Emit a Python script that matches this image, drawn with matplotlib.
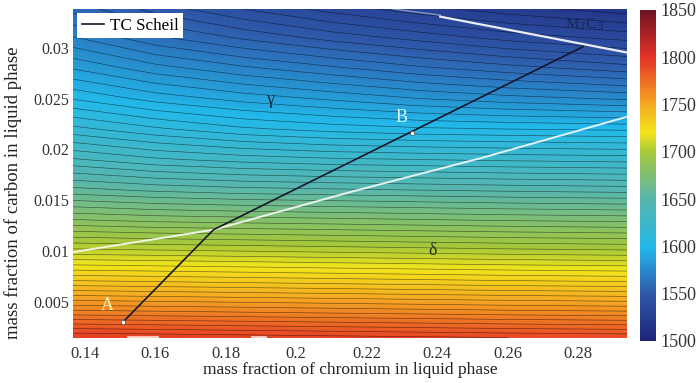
import numpy as np
import matplotlib.pyplot as plt
from matplotlib.colors import LinearSegmentedColormap

plt.rcParams['font.family'] = ['Liberation Serif', 'DejaVu Serif']

# Datos
cromo = [0.135, 0.16, 0.185, 0.21, 0.235, 0.26, 0.295]
carbono = [0.0015, 0.004, 0.007, 0.010, 0.013, 0.016, 0.019, 0.022, 0.025, 0.028, 0.031, 0.034]
temperatura = [
    [1795, 1794, 1793, 1792, 1791, 1790, 1789],
    [1767, 1766, 1765, 1764, 1763, 1762, 1761],
    [1736, 1735, 1734, 1733, 1732, 1731, 1730],
    [1707, 1706, 1705, 1704, 1703, 1702, 1701],
    [1681, 1679, 1678, 1677, 1676, 1675, 1674],
    [1657, 1654, 1652, 1651, 1650, 1649, 1648],
    [1636, 1631, 1628, 1626, 1625, 1624, 1623],
    [1617, 1611, 1606, 1603, 1601, 1600, 1599],
    [1600, 1593, 1588, 1584, 1580, 1577, 1574],
    [1585, 1577, 1571, 1566, 1561, 1557, 1552],
    [1571, 1561, 1554, 1548, 1543, 1538, 1533],
    [1558, 1547, 1539, 1532, 1526, 1521, 1516],
]

# Ruta Scheil: A -> quiebre en la frontera -> fin
scheil_cr = [0.1508, 0.1765, 0.2815]
scheil_c = [0.00303, 0.0121, 0.0301]

# Frontera gamma / delta
frontera_cr = [0.1366, 0.1765, 0.2153, 0.2531, 0.2939]
frontera_c = [0.0099, 0.0121, 0.0158, 0.0192, 0.0232]

# Frontera M7C3
m7c3_cr = [0.2409, 0.2943]
m7c3_c = [0.03305, 0.0295]
m7c3_tenue_cr = [0.2275, 0.2409]
m7c3_tenue_c = [0.0338, 0.0332]

# Trozos blancos en el borde inferior
borde_cr = [(0.1522, 0.1605), (0.1874, 0.1911)]

punto_a = (0.1508, 0.00303)
punto_b = (0.2329, 0.02163)

colores = [
    (0.0, '#1e2478'),
    (0.143, '#2f5aab'),
    (0.28, '#22b8ea'),
    (0.43, '#58b6ac'),
    (0.57, '#a6c83a'),
    (0.63, '#f2e41c'),
    (0.714, '#f5aa22'),
    (0.857, '#e53226'),
    (1.0, '#6e1424'),
]
mapa = LinearSegmentedColormap.from_list('liquidus', colores)

fig = plt.figure(figsize=(6.98, 3.83), dpi=100)
ax = fig.add_axes([0.1046, 0.1175, 0.7934, 0.859])
cax = fig.add_axes([0.917, 0.110, 0.023, 0.864])

X, Y = np.meshgrid(cromo, carbono)
Z = np.array(temperatura)

relleno = ax.contourf(X, Y, Z, levels=np.arange(1500, 1851, 1), cmap=mapa, vmin=1500, vmax=1850)
ax.contour(X, Y, Z, levels=np.arange(1505, 1850, 5), colors='k', linewidths=0.45, alpha=0.55)

ax.plot(frontera_cr, frontera_c, color='white', lw=1.4, alpha=0.85)
ax.plot(m7c3_cr, m7c3_c, color='white', lw=1.6, alpha=0.9)
ax.plot(m7c3_tenue_cr, m7c3_tenue_c, color='white', lw=1.0, alpha=0.45)
for a, b in borde_cr:
    ax.plot([a, b], [0.0016, 0.0016], color='#fbe0d8', lw=2.0, alpha=0.9)

ax.plot(scheil_cr, scheil_c, color='#15182a', lw=1.2, label='TC Scheil')
ax.plot(*punto_a, 'o', ms=3, mfc='white', mec='#555555', mew=0.5)
ax.plot(*punto_b, 'o', ms=3, mfc='white', mec='#555555', mew=0.5)

ax.text(0.1463, 0.0047, 'A', color='#fbefb8', fontsize=13, ha='center', va='center')
ax.text(0.2300, 0.0231, 'B', color='#d4f2ff', fontsize=13, ha='center', va='center')
ax.text(0.1926, 0.0249, 'γ', color='#1b2a40', fontsize=13, ha='center', va='center')
ax.text(0.2386, 0.0101, 'δ', color='#2a3020', fontsize=13, ha='center', va='center')
ax.text(0.2820, 0.0323, 'M$_7$C$_3$', color='#1a2550', fontsize=11, ha='center', va='center')

ax.set_xlim(0.1366, 0.2939)
ax.set_ylim(0.00146, 0.0338)
ax.set_xticks([0.14, 0.16, 0.18, 0.2, 0.22, 0.24, 0.26, 0.28])
ax.set_xticklabels(['0.14', '0.16', '0.18', '0.2', '0.22', '0.24', '0.26', '0.28'])
ax.set_yticks([0.005, 0.01, 0.015, 0.02, 0.025, 0.03])
ax.set_yticklabels(['0.005', '0.01', '0.015', '0.02', '0.025', '0.03'])
ax.tick_params(axis='x', length=0, labelsize=12, pad=6, colors='#333333')
ax.tick_params(axis='y', length=0, labelsize=11.5, pad=3, colors='#333333')
for s in ax.spines.values():
    s.set_visible(False)
ax.set_xlabel('mass fraction of chromium in liquid phase', fontsize=12.5, labelpad=0, color='#222222')
ax.set_ylabel('mass fraction of carbon in liquid phase', fontsize=13.5, color='#222222')
ax.yaxis.set_label_coords(-0.092, 0.44)

ley = ax.legend(loc='upper left', fontsize=12.3, fancybox=False, framealpha=1,
                edgecolor='white', borderaxespad=0.25, handlelength=1.3,
                borderpad=0.25, handletextpad=0.35)
ley.get_frame().set_linewidth(0)

cb = fig.colorbar(relleno, cax=cax, ticks=np.arange(1500, 1851, 50))
cb.outline.set_visible(False)
cax.tick_params(length=0, labelsize=13, pad=3, colors='#333333')

fig.savefig('out.png', dpi=100)
